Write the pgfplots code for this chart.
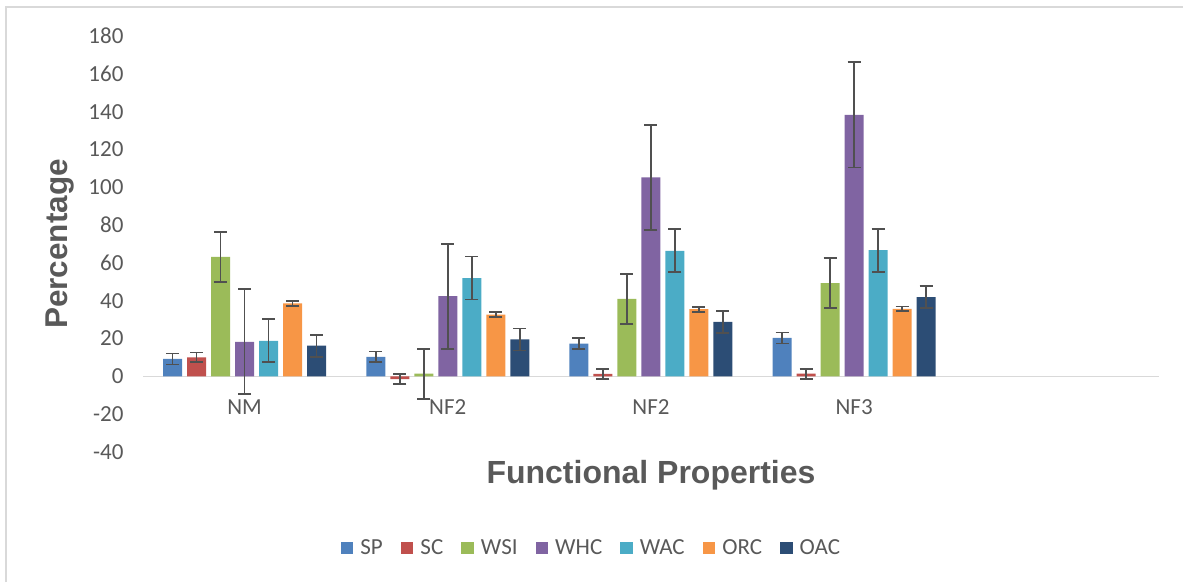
\documentclass[border=0pt]{standalone}
\usepackage{pgfplots}
\pgfplotsset{compat=1.18}
\usepackage{fontspec}
\setmainfont{Carlito}
\newfontfamily\arialfont{Liberation Sans}
\definecolor{txt}{HTML}{595959}
\definecolor{framec}{HTML}{D9D9D9}
\definecolor{axisc}{HTML}{D9D9D9}
\definecolor{errc}{HTML}{505050}
\definecolor{cSP}{HTML}{4F81BD}
\definecolor{cSC}{HTML}{C0504D}
\definecolor{cWSI}{HTML}{9BBB59}
\definecolor{cWHC}{HTML}{8064A2}
\definecolor{cWAC}{HTML}{4BACC6}
\definecolor{cORC}{HTML}{F79646}
\definecolor{cOAC}{HTML}{2C4D75}
\pgfplotsset{
  sqlegend/.style={legend image code/.code={\fill[##1] (0pt,-6.3pt) rectangle (12.6pt,6.3pt);}},
  barstyle/.style={fill=#1, draw=none, sqlegend,
    error bars/.cd, y dir=both, y explicit,
    error bar style={line width=1.8pt, color=errc},
    error mark options={line width=1.8pt, mark size=6.5pt, color=errc, rotate=90}},
}
\begin{document}
\begin{tikzpicture}
\path[use as bounding box] (0,0) rectangle (1183pt,582pt);
\draw[color=framec, line width=1.5pt] (6pt,0pt) -- (6pt,575pt) -- (1183pt,575pt);
\begin{axis}[
  at={(143pt,130pt)}, anchor=south west,
  scale only axis, width=1016pt, height=416pt,
  clip=false,
  xmin=-0.5, xmax=4.5, ymin=-40, ymax=180,
  axis x line*=middle, axis y line*=left,
  x axis line style={color=axisc, line width=1.5pt},
  y axis line style={draw=none},
  hide obscured y ticks=false, hide obscured x ticks=false,
  major tick length=0pt,
  xtick={0,1,2,3}, xticklabels={NM,NF2,NF2,NF3},
  ytick={-40,-20,...,180},
  tick label style={font=\fontsize{23}{27}\selectfont, text=txt},
  /pgf/number format/assume math mode=true,
  yticklabel style={xshift=-16pt},
  xticklabel style={yshift=-20pt},
  ybar=5pt, bar width=19pt,
  legend columns=7,
  legend style={at={(axis description cs:0.4419,-0.2308)}, anchor=center, draw=none,
    font=\fontsize{23}{27}\selectfont, text=txt, nodes={inner sep=3pt},
    /tikz/every odd column/.append style={column sep=4pt},
    /tikz/every even column/.append style={column sep=15pt}},
]
\addplot[barstyle=cSP] coordinates {(0,9.2) +- (0,2.9) (1,10.3) +- (0,2.9) (2,17.3) +- (0,2.9) (3,20.3) +- (0,2.9)};
\addplot[barstyle=cSC] coordinates {(0,10.0) +- (0,2.6) (1,-1.5) +- (0,2.6) (2,1.3) +- (0,2.6) (3,1.4) +- (0,2.6)};
\addplot[barstyle=cWSI] coordinates {(0,63.2) +- (0,13.2) (1,1.4) +- (0,13.2) (2,41.0) +- (0,13.2) (3,49.3) +- (0,13.2)};
\addplot[barstyle=cWHC] coordinates {(0,18.3) +- (0,27.8) (1,42.4) +- (0,27.8) (2,105.3) +- (0,27.8) (3,138.3) +- (0,27.8)};
\addplot[barstyle=cWAC] coordinates {(0,18.8) +- (0,11.4) (1,52.0) +- (0,11.4) (2,66.4) +- (0,11.4) (3,66.7) +- (0,11.4)};
\addplot[barstyle=cORC] coordinates {(0,38.6) +- (0,1.3) (1,32.6) +- (0,1.3) (2,35.5) +- (0,1.3) (3,35.7) +- (0,1.3)};
\addplot[barstyle=cOAC] coordinates {(0,16.2) +- (0,5.8) (1,19.5) +- (0,5.8) (2,28.8) +- (0,5.8) (3,41.9) +- (0,5.8)};
\legend{SP,SC,WSI,WHC,WAC,ORC,OAC}
\node[rotate=90, font=\arialfont\bfseries\fontsize{31.5}{36}\selectfont, text=txt] at (axis description cs:-0.0817,0.5) {Percentage};
\node[font=\arialfont\bfseries\fontsize{32}{36}\selectfont, text=txt] at (axis description cs:0.5,-0.0553) {Functional Properties};
\end{axis}
\end{tikzpicture}
\end{document}
